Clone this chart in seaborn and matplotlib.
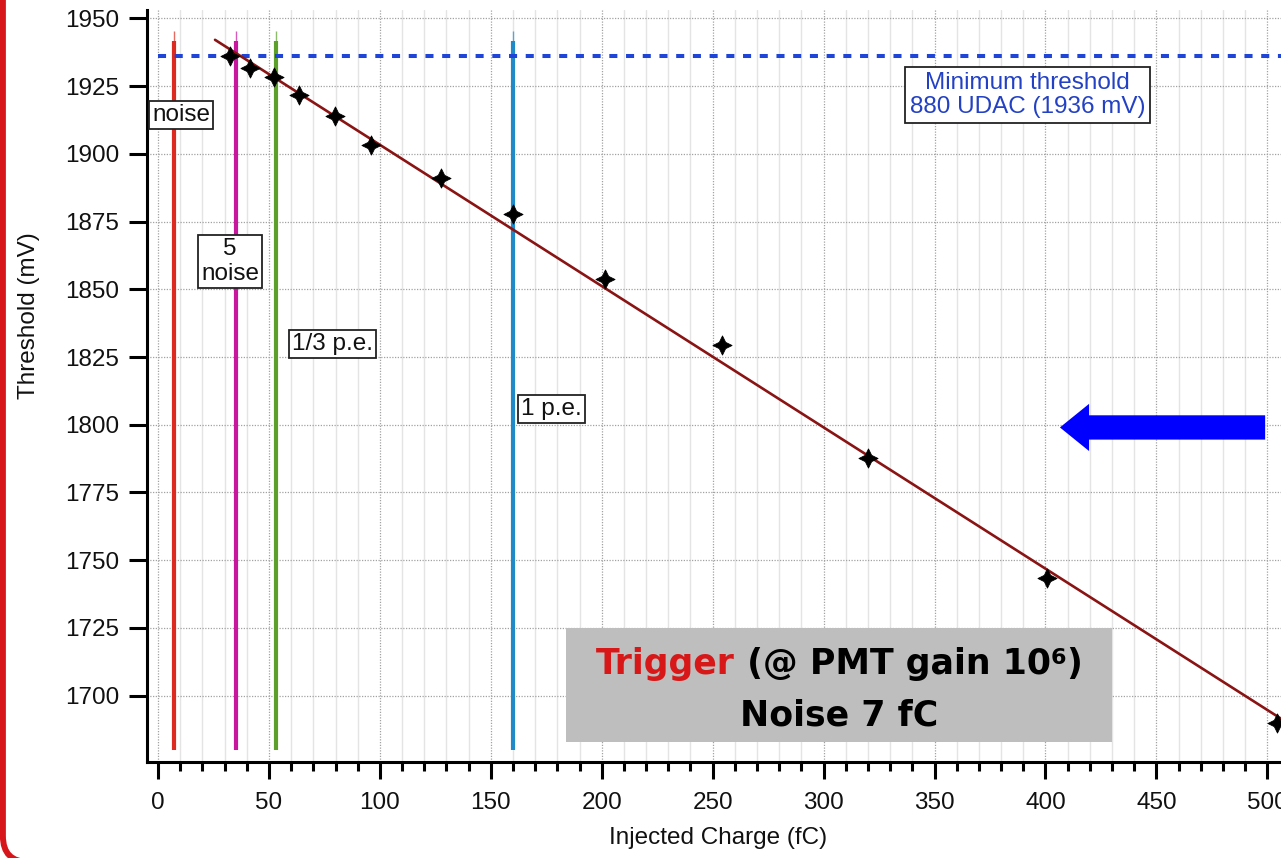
import numpy as np
import pandas as pd
import matplotlib
matplotlib.use("Agg")
import matplotlib.pyplot as plt
import matplotlib.patches as mpatches
from matplotlib.path import Path
from matplotlib.ticker import MultipleLocator
import seaborn as sns

# Measured trigger threshold versus injected charge
charge_fc = [32.4, 41.4, 52.3, 63.5, 79.7, 95.9, 127.5, 159.9, 201.4, 254.0, 319.8, 400.9, 504.5]
threshold_mv = [1936.0, 1931.6, 1928.2, 1921.6, 1913.9, 1903.2, 1891.0, 1877.7, 1853.8, 1829.4, 1787.8, 1743.5, 1690.0]

# Linear fit drawn through the points
fit_slope = -0.5216
fit_intercept = 1955.5
fit_range = [25.7, 512.0]

# Reference charges (noise, 5 x noise, 1/3 p.e., 1 p.e.)
ref_charges = [7.0, 35.0, 53.3, 160.0]
ref_labels = ["noise", "5\nnoise", "1/3 p.e.", "1 p.e."]
ref_colors = ["#dc2a20", "#c8169e", "#5c9f2a", "#2089c8"]

min_threshold_mv = 1936.0
min_threshold_text = "Minimum threshold\n880 UDAC (1936 mV)"

x_ticks = list(range(0, 501, 50))
y_ticks = list(range(1700, 1951, 25))

sns.set_theme(style="white")
plt.rcParams["font.family"] = ["Liberation Sans", "DejaVu Sans"]

W, H = 1281, 858
fig = plt.figure(figsize=(W / 100, H / 100), dpi=100)
fig.patch.set_facecolor("white")
ax = fig.add_axes([147 / W, 96 / H, (1290 - 147) / W, (848 - 96) / H])
ax.set_facecolor("white")

ax.set_xlim(-4.96, 510.2)
ax.set_ylim(1675.5, 1953.1)

# grid
ax.set_axisbelow(True)
ax.xaxis.set_minor_locator(MultipleLocator(10))
ax.set_xticks(x_ticks)
ax.set_yticks(y_ticks)
ax.grid(which="minor", axis="x", color="#e4e4e4", lw=1.0, ls="-")
ax.grid(which="major", axis="both", color="#a2a2a2", lw=0.9, ls=(0, (1, 1.2)))

# reference lines
for xc, col in zip(ref_charges, ref_colors):
    ax.vlines(xc, 1941.0, 1945.5, color=col, lw=1.0, alpha=0.7, zorder=3)
    ax.vlines(xc, 1680.0, 1941.5, color=col, lw=3.0, zorder=3)

ax.axhline(min_threshold_mv, xmin=(0 + 4.96) / (510.2 + 4.96), xmax=1.0,
           color="#1f44d8", lw=2.9, ls=(0, (2.0, 2.15)), zorder=3)

# fit line and data points
fit_x = np.array(fit_range)
fit_df = pd.DataFrame({"charge": fit_x, "threshold": fit_intercept + fit_slope * fit_x})
sns.lineplot(data=fit_df, x="charge", y="threshold", color="#8a1414", lw=1.9, ax=ax, zorder=4)

# four-pointed concave diamond marker
k = 0.33
star = Path([(0, 1), (k, k), (1, 0), (k, -k), (0, -1), (-k, -k), (-1, 0), (-k, k), (0, 1)],
            [Path.MOVETO] + [Path.LINETO] * 7 + [Path.CLOSEPOLY])
pts = pd.DataFrame({"charge": charge_fc, "threshold": threshold_mv})
sns.scatterplot(data=pts, x="charge", y="threshold", marker=star, s=190,
                color="black", edgecolor="black", linewidth=0.6, ax=ax, zorder=5)

# boxed labels for the reference lines
label_pos = [(10.4, 1914.2), (32.5, 1860.3), (78.5, 1829.9), (177.4, 1805.9)]
for (lx, ly), txt in zip(label_pos, ref_labels):
    ax.text(lx, ly, txt, ha="center", va="center", fontsize=17.5, color="#111111",
            linespacing=1.2, zorder=6,
            bbox=dict(boxstyle="square,pad=0.12", fc="white", ec="#222222", lw=1.3))

ax.text(392.0, 1921.7, min_threshold_text, ha="center", va="center", fontsize=17.5,
        color="#2341c4", linespacing=1.12, zorder=6,
        bbox=dict(boxstyle="square,pad=0.2", fc="white", ec="#222222", lw=1.3))

# blue arrow
ax.annotate("", xy=(406.5, 1799.0), xytext=(499.0, 1799.0),
            arrowprops=dict(arrowstyle="simple,head_length=21,head_width=34,tail_width=17.5",
                            mutation_scale=1, shrinkA=0, shrinkB=0,
                            fc="#0000ff", ec="#0000ff", lw=0),
            zorder=6)

# grey caption box
ax.add_patch(mpatches.Rectangle((183.9, 1682.8), 430.0 - 183.9, 1724.9 - 1682.8,
                                facecolor="#bebebe", edgecolor="none", zorder=6))
cap_kw = dict(fontsize=25, fontweight="bold", family="DejaVu Sans", zorder=7)
cx = 306.9
t1 = ax.text(cx, 1707.9, "Trigger", ha="left", va="baseline", color="#d81818", **cap_kw)
t2 = ax.annotate(" (@ PMT gain 10", xy=(1, 0), xycoords=t1, ha="left", va="bottom",
                 color="black", **cap_kw)
sup_kw = dict(cap_kw)
sup_kw["fontsize"] = 16
t3 = ax.annotate("6", xy=(1, 0.97), xycoords=t2, ha="left", va="top", color="black", **sup_kw)
t4 = ax.annotate(")", xy=(1, 0), xycoords=(t3, t2), ha="left", va="bottom",
                 color="black", **cap_kw)
fig.canvas.draw()
left_px = t1.get_window_extent().x0
right_px = t4.get_window_extent().x1
cx_px = ax.transData.transform((cx, 0))[0]
shift_px = cx_px - (left_px + right_px) / 2
new_x = ax.transData.inverted().transform((left_px + shift_px, 0))[0]
t1.set_x(new_x)
ax.text(cx, 1689.1, "Noise 7 fC", ha="center", va="baseline", color="black", **cap_kw)

# axes styling
for side in ["top", "right"]:
    ax.spines[side].set_visible(False)
for side in ["left", "bottom"]:
    ax.spines[side].set_color("black")
    ax.spines[side].set_linewidth(2.2)
ax.tick_params(axis="x", which="major", direction="out", length=12.5, width=2.2,
               color="black", labelsize=17.5, pad=9, bottom=True)
ax.tick_params(axis="x", which="minor", direction="out", length=6.5, width=2.2,
               color="black", bottom=True)
ax.tick_params(axis="y", which="major", direction="out", length=13, width=2.2,
               color="black", labelsize=17.5, pad=7, left=True)
ax.set_xticklabels([str(v) for v in x_ticks], color="#111111")
ax.set_yticklabels([str(v) for v in y_ticks], color="#111111")

ax.set_xlabel("Injected Charge (fC)", fontsize=17.5, color="#111111")
ax.set_ylabel("Threshold (mV)", fontsize=17.5, color="#111111")
ax.xaxis.set_label_coords(0.5, -0.087)
ax.yaxis.set_label_coords(-0.094, 0.593)

# red rounded frame at the left edge
frame = mpatches.FancyBboxPatch((2.9, -4), 1400, 900, boxstyle="round,pad=0,rounding_size=26",
                                fc="none", ec="#d7161c", lw=4.3, transform=None)
fig.add_artist(frame)

fig.savefig("out.png", dpi=100)
